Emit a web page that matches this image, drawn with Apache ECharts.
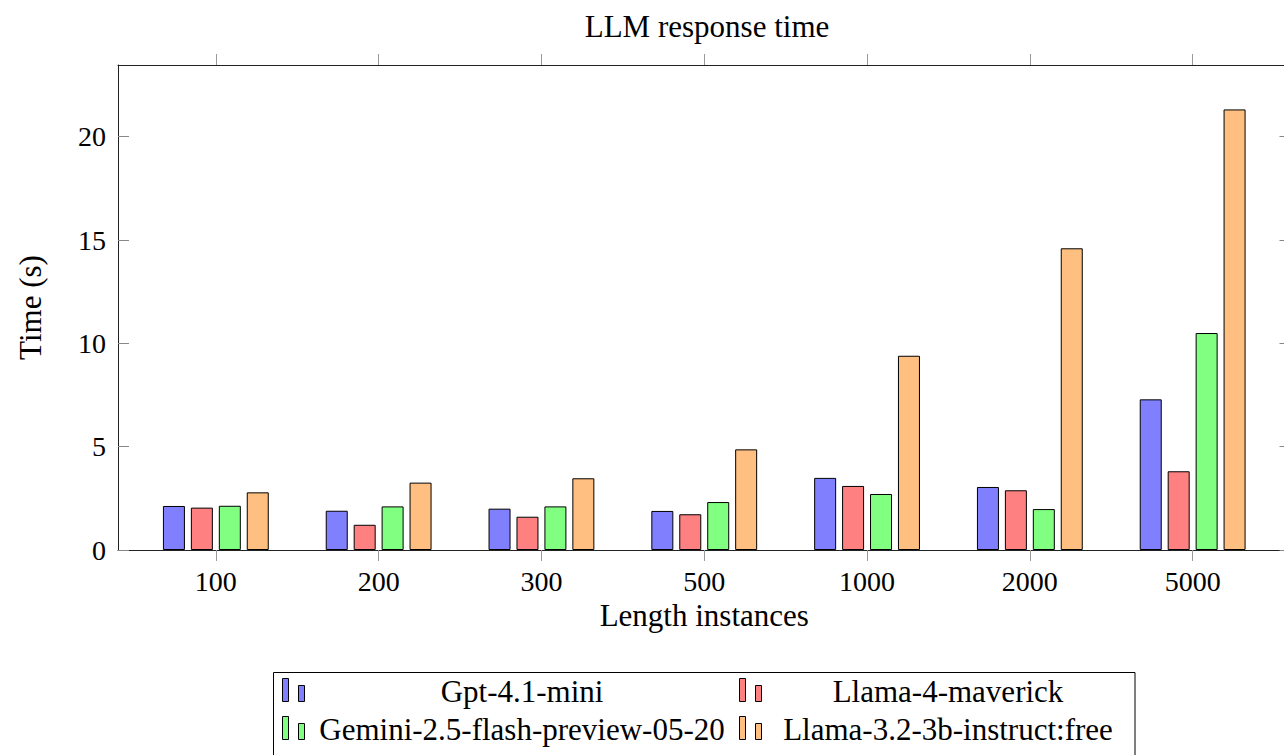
<!DOCTYPE html>
<html>
<head>
<meta charset="utf-8">
<script src="https://cdn.jsdelivr.net/npm/echarts@6/dist/echarts.min.js"></script>
<style>
html,body{margin:0;padding:0;background:#fff;}
#chart{width:1284px;height:755px;}
</style>
</head>
<body>
<div id="chart"></div>
<script>
const categories = ['100', '200', '300', '500', '1000', '2000', '5000'];
const seriesNames = ['Gpt-4.1-mini', 'Llama-4-maverick', 'Gemini-2.5-flash-preview-05-20', 'Llama-3.2-3b-instruct:free'];
const gptValues = [2.13, 1.90, 2.00, 1.89, 3.49, 3.05, 7.29];
const llama4Values = [2.05, 1.22, 1.61, 1.73, 3.10, 2.89, 3.81];
const geminiValues = [2.14, 2.11, 2.11, 2.32, 2.71, 1.98, 10.50];
const llama32Values = [2.79, 3.26, 3.47, 4.87, 9.40, 14.60, 21.32];
const yTicks = [0, 5, 10, 15, 20];
const colors = ['#8080ff', '#ff8080', '#80ff80', '#ffbf80'];

const allValues = [gptValues, llama4Values, geminiValues, llama32Values];
const xIdx = categories.map((c, i) => i);
const FONT = 'Liberation Serif';
const FS = 28;      // numbers
const FSW = 31;     // words

const chart = echarts.init(document.getElementById('chart'), null, {renderer: 'svg'});

const series = allValues.map((vals, s) => ({
  name: seriesNames[s],
  type: 'bar',
  xAxisIndex: 0,
  yAxisIndex: 0,
  barWidth: 22,
  barGap: '27%',
  data: vals.map((v, i) => [i, v]),
  itemStyle: {color: colors[s], borderColor: '#000', borderWidth: 1},
  emphasis: {disabled: true},
  animation: false
}));

// legend drawn as graphic (pgfplots style)
const legendGraphics = [];
legendGraphics.push({
  type: 'rect', shape: {x: 273.5, y: 672.5, width: 861.5, height: 120},
  style: {fill: '#fff', stroke: '#000', lineWidth: 1}, silent: true, z: 10
});
const colIcon = [282, 739];
const colText = [522, 948];
const rowY = [678, 716];
seriesNames.forEach((name, s) => {
  const col = s % 2, row = Math.floor(s / 2);
  const ix = colIcon[col], iy = rowY[row];
  legendGraphics.push({
    type: 'rect', shape: {x: ix + 0.5, y: iy + 0.5, width: 6, height: 23},
    style: {fill: colors[s], stroke: '#000', lineWidth: 1}, silent: true, z: 11
  });
  legendGraphics.push({
    type: 'rect', shape: {x: ix + 16.5, y: iy + 7.5, width: 6, height: 16},
    style: {fill: colors[s], stroke: '#000', lineWidth: 1}, silent: true, z: 11
  });
  legendGraphics.push({
    type: 'text', x: colText[col], y: iy + 13,
    style: {text: name, font: FSW + 'px "' + FONT + '"', fill: '#000', align: 'center', verticalAlign: 'middle'},
    silent: true, z: 11
  });
});

const xMin = -0.601, xMax = 6.601;
const option = {
  animation: false,
  textStyle: {fontFamily: FONT},
  title: {
    text: 'LLM response time',
    left: 702, top: 6, textAlign: 'center',
    textStyle: {fontFamily: FONT, fontSize: FSW, fontWeight: 'normal', color: '#000'}
  },
  grid: {left: 118, top: 65, right: -6.5, bottom: 205, containLabel: false, outerBoundsMode: 'none'},
  xAxis: [{
    type: 'value', position: 'bottom', min: xMin, max: xMax,
    name: 'Length instances', nameLocation: 'middle', nameGap: 45,
    nameTextStyle: {fontFamily: FONT, fontSize: FSW, color: '#000'},
    axisLine: {show: true, onZero: false, lineStyle: {color: '#222', width: 1}},
    axisTick: {show: true, inside: false, length: 11, customValues: xIdx, lineStyle: {color: '#999', width: 1}},
    axisLabel: {show: true, customValues: xIdx, margin: 17, fontFamily: FONT, fontSize: FS, color: '#000',
      formatter: v => categories[Math.round(v)] },
    splitLine: {show: false}
  }, {
    type: 'value', position: 'top', min: xMin, max: xMax,
    axisLine: {show: true, onZero: false, lineStyle: {color: '#222', width: 1}},
    axisTick: {show: true, inside: false, length: 11, customValues: xIdx, lineStyle: {color: '#999', width: 1}},
    axisLabel: {show: false},
    splitLine: {show: false}
  }],
  yAxis: [{
    type: 'value', position: 'left', min: 0, max: 23.47,
    name: 'Time (s)', nameLocation: 'middle', nameGap: 72, nameRotate: 90,
    nameTextStyle: {fontFamily: FONT, fontSize: FSW, color: '#000'},
    axisLine: {show: true, onZero: false, lineStyle: {color: '#222', width: 1}},
    axisTick: {show: true, inside: true, length: 11, customValues: yTicks, lineStyle: {color: '#888', width: 1}},
    axisLabel: {show: true, customValues: yTicks, margin: 12, fontFamily: FONT, fontSize: FS, color: '#000'},
    splitLine: {show: false}
  }, {
    type: 'value', position: 'right', min: 0, max: 23.47,
    axisLine: {show: true, onZero: false, lineStyle: {color: '#222', width: 1}},
    axisTick: {show: true, inside: true, length: 11, customValues: yTicks, lineStyle: {color: '#888', width: 1}},
    axisLabel: {show: false},
    splitLine: {show: false}
  }],
  series: series,
  graphic: legendGraphics
};
chart.setOption(option);
</script>
</body>
</html>
